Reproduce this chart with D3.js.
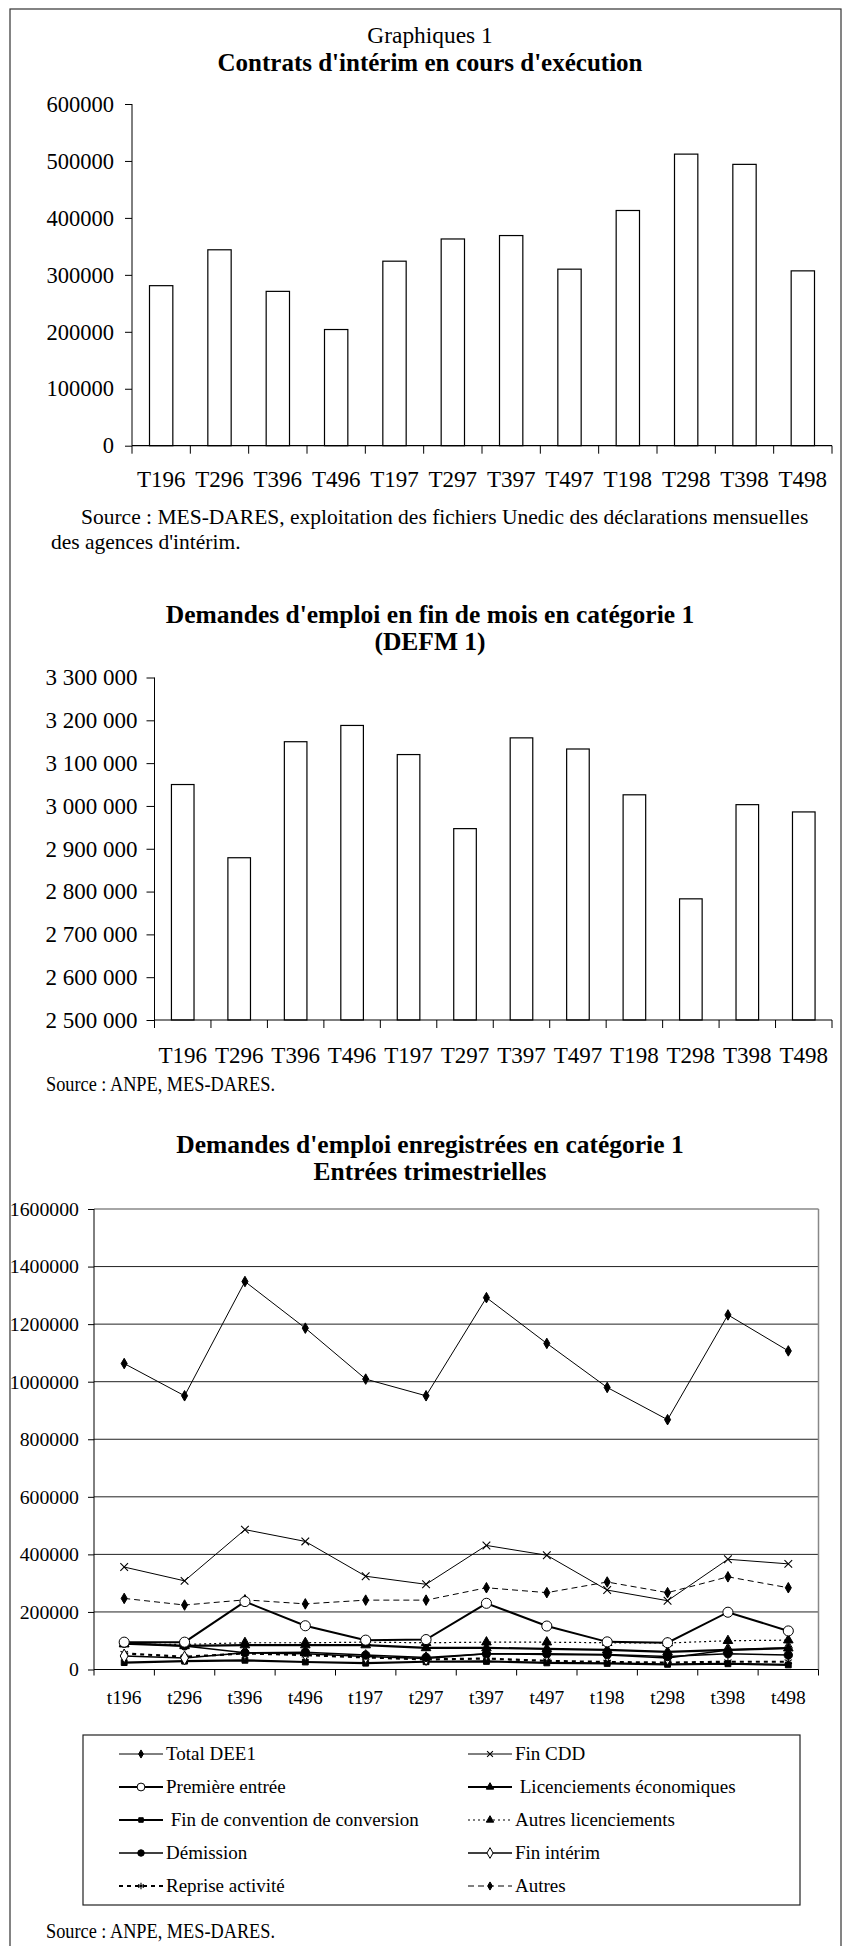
<!doctype html>
<meta charset="utf-8">
<script src="https://d3js.org/d3.v7.min.js"></script>
<style>
  body { margin: 0; background: #fff; }
  text { font-family: "Liberation Serif", "Times New Roman", serif; fill: #000; }
</style>
<body>
<svg width="844" height="1946"></svg>
<script>
  // ---- data ----
  var quarters = ["T196", "T296", "T396", "T496", "T197", "T297", "T397", "T497", "T198", "T298", "T398", "T498"];
  var quartersLow = ["t196", "t296", "t396", "t496", "t197", "t297", "t397", "t497", "t198", "t298", "t398", "t498"];

  var interim = [281000, 344000, 271000, 204000, 324000, 363000, 369000, 310000, 413000, 512000, 494000, 307000];
  var interimTicks = [0, 100000, 200000, 300000, 400000, 500000, 600000];

  var defm = [3050000, 2879000, 3150000, 3188000, 3120000, 2947000, 3159000, 3133000, 3026000, 2783000, 3003000, 2986000];
  var defmTicks = [2500000, 2600000, 2700000, 2800000, 2900000, 3000000, 3100000, 3200000, 3300000];

  var totalDEE1 = [1063000, 951000, 1348000, 1186000, 1009000, 951000, 1292000, 1133000, 980000, 868000, 1232000, 1107000];
  var finCDD = [356000, 308000, 486000, 445000, 324000, 296000, 431000, 397000, 276000, 239000, 383000, 367000];
  var premiereEntree = [95000, 95000, 236000, 152000, 102000, 104000, 230000, 151000, 96000, 93000, 199000, 134000];
  var licEco = [90000, 82000, 85000, 85000, 85000, 75000, 75000, 72000, 68000, 61000, 68000, 74000];
  var finConvention = [24000, 29000, 32000, 26000, 22000, 27000, 28000, 23000, 21000, 18000, 20000, 16000];
  var autresLic = [88000, 87000, 93000, 93000, 95000, 93000, 95000, 95000, 93000, 92000, 100000, 102000];
  var demission = [92000, 82000, 58000, 60000, 50000, 42000, 55000, 55000, 52000, 45000, 55000, 50000];
  var finInterim = [47000, 40000, 58000, 55000, 45000, 38000, 55000, 52000, 50000, 40000, 68000, 75000];
  var reprise = [56000, 44000, 56000, 50000, 42000, 35000, 38000, 30000, 26000, 24000, 27000, 27000];
  var autres = [247000, 224000, 242000, 228000, 241000, 241000, 284000, 267000, 304000, 267000, 322000, 284000];
  var entreesTicks = [0, 200000, 400000, 600000, 800000, 1000000, 1200000, 1400000, 1600000];

  var seriesNames = ["Total DEE1", "Fin CDD", "Première entrée", " Licenciements économiques",
    " Fin de convention de conversion", "Autres licenciements", "Démission", "Fin intérim",
    "Reprise activité", "Autres"];
  var seriesValues = [totalDEE1, finCDD, premiereEntree, licEco, finConvention, autresLic,
    demission, finInterim, reprise, autres];

  // styles (per series, same order)
  var seriesStyle = [
    { w: 1, dash: null, sym: d3.symbolDiamond, size: 32, fill: "#000" },
    { w: 1, dash: null, sym: d3.symbolX, size: 40, fill: "none" },
    { w: 2, dash: null, sym: d3.symbolCircle, size: 80, fill: "#fff" },
    { w: 2.2, dash: null, sym: d3.symbolTriangle, size: 40, fill: "#000" },
    { w: 2.2, dash: null, sym: d3.symbolSquare, size: 34, fill: "#000" },
    { w: 1.2, dash: "2,3", sym: d3.symbolTriangle, size: 40, fill: "#000" },
    { w: 1.5, dash: null, sym: d3.symbolCircle, size: 55, fill: "#000" },
    { w: 1.5, dash: null, sym: d3.symbolDiamond, size: 55, fill: "#fff" },
    { w: 2.2, dash: "4,4", sym: d3.symbolAsterisk, size: 50, fill: "none" },
    { w: 1, dash: "6,4", sym: d3.symbolDiamond, size: 32, fill: "#000" }
  ];

  var svg = d3.select("svg");

  // outer frame
  svg.append("rect")
    .attr("x", 10).attr("y", 9)
    .attr("width", 831).attr("height", 1960)
    .attr("fill", "none").attr("stroke", "#333").attr("stroke-width", 1.2);

  function spaced(v) { return d3.format(",")(v).replace(/,/g, " "); }

  // --------------------------------------------------------------- //
  // bar chart helper
  function barChart(cfg) {
    var x = d3.scaleBand().domain(cfg.cats).range([cfg.left, cfg.right]);
    var y = d3.scaleLinear().domain(cfg.domain).range([cfg.bottom, cfg.top]);

    // y axis
    var ya = svg.append("g")
      .attr("transform", "translate(" + cfg.left + ",0)")
      .call(d3.axisLeft(y).tickValues(cfg.ticks).tickSize(cfg.tick).tickPadding(cfg.pad)
        .tickFormat(cfg.format));
    ya.select(".domain").attr("d", "M0," + cfg.top + "V" + cfg.bottom).attr("stroke", "#000");
    ya.selectAll("text").attr("font-size", cfg.yfs);

    // bars
    svg.selectAll(null)
      .data(cfg.values)
      .enter().append("rect")
      .attr("x", function (d, i) { return x(cfg.cats[i]) + x.bandwidth() * 0.3; })
      .attr("y", function (d) { return y(d); })
      .attr("width", x.bandwidth() * 0.4)
      .attr("height", function (d) { return cfg.bottom - y(d); })
      .attr("fill", "#fff").attr("stroke", "#000").attr("stroke-width", 1.2);

    // x axis line + boundary ticks
    svg.append("line")
      .attr("x1", cfg.left).attr("x2", cfg.right)
      .attr("y1", cfg.bottom).attr("y2", cfg.bottom)
      .attr("stroke", "#000").attr("stroke-width", 1.2);
    var bounds = cfg.cats.map(function (c) { return x(c); }).concat([cfg.right]);
    svg.selectAll(null).data(bounds).enter().append("line")
      .attr("x1", function (d) { return d; }).attr("x2", function (d) { return d; })
      .attr("y1", cfg.bottom).attr("y2", cfg.bottom + 8)
      .attr("stroke", "#000");

    svg.selectAll(null).data(cfg.cats).enter().append("text")
      .attr("x", function (d) { return x(d) + x.bandwidth() / 2; })
      .attr("y", cfg.bottom + cfg.labelOff)
      .attr("text-anchor", "middle")
      .attr("font-size", cfg.xfs)
      .text(function (d) { return d; });
  }

  function title(lines, y0, gap, sizes, bolds) {
    lines.forEach(function (t, i) {
      svg.append("text")
        .attr("x", 430).attr("y", y0 + i * gap)
        .attr("text-anchor", "middle")
        .attr("font-size", sizes[i])
        .attr("font-weight", bolds[i] ? "bold" : "normal")
        .text(t);
    });
  }

  function anpeSource(yb) {
    svg.append("text").attr("x", 46).attr("y", yb).attr("font-size", 20)
      .attr("textLength", 229).attr("lengthAdjust", "spacingAndGlyphs")
      .text("Source : ANPE, MES-DARES.");
  }

  // ---- chart 1 ----
  title(["Graphiques 1", "Contrats d'intérim en cours d'exécution"], 42.5, 28, [23.4, 25], [false, true]);
  barChart({
    cats: quarters, values: interim, domain: [0, 600000], ticks: interimTicks,
    left: 132, right: 832, top: 104, bottom: 445.7, tick: 7, pad: 11, yfs: 22.5, xfs: 23,
    format: d3.format("d"), labelOff: 41
  });
  svg.append("text").attr("x", 81).attr("y", 524).attr("font-size", 21.5)
    .text("Source : MES-DARES, exploitation des fichiers Unedic des déclarations mensuelles");
  svg.append("text").attr("x", 51).attr("y", 549).attr("font-size", 21.5)
    .text("des agences d'intérim.");

  // ---- chart 2 ----
  title(["Demandes d'emploi en fin de mois en catégorie 1", "(DEFM 1)"], 623, 27, [25.5, 25.5], [true, true]);
  barChart({
    cats: quarters, values: defm, domain: [2500000, 3300000], ticks: defmTicks,
    left: 154.5, right: 832, top: 677.5, bottom: 1020, tick: 8, pad: 9, yfs: 23, xfs: 23,
    format: spaced, labelOff: 43
  });
  anpeSource(1091);

  // ---- chart 3 ----
  title(["Demandes d'emploi enregistrées en catégorie 1", "Entrées trimestrielles"], 1153, 27, [25.5, 25.5], [true, true]);

  var L3 = 94, R3 = 818.5, T3 = 1209, B3 = 1669.5;
  var x3 = d3.scaleBand().domain(quartersLow).range([L3, R3]);
  var y3 = d3.scaleLinear().domain([0, 1600000]).range([B3, T3]);

  // gridlines
  svg.selectAll(null).data(entreesTicks.slice(1)).enter().append("line")
    .attr("x1", L3).attr("x2", R3)
    .attr("y1", function (d) { return y3(d); }).attr("y2", function (d) { return y3(d); })
    .attr("stroke", function (d) { return d === 1600000 ? "#888" : "#222"; })
    .attr("stroke-width", function (d) { return d === 1600000 ? 1.5 : 1; });
  svg.append("line").attr("x1", R3).attr("x2", R3).attr("y1", T3).attr("y2", B3)
    .attr("stroke", "#888").attr("stroke-width", 1.5);

  var ya3 = svg.append("g")
    .attr("transform", "translate(" + L3 + ",0)")
    .call(d3.axisLeft(y3).tickValues(entreesTicks).tickSize(6).tickPadding(9).tickFormat(d3.format("d")));
  ya3.select(".domain").attr("d", "M0," + T3 + "V" + B3).attr("stroke", "#000");
  ya3.selectAll("text").attr("font-size", 19.8);

  svg.append("line").attr("x1", L3).attr("x2", R3).attr("y1", B3).attr("y2", B3)
    .attr("stroke", "#000").attr("stroke-width", 1.2);
  var bounds3 = quartersLow.map(function (c) { return x3(c); }).concat([R3]);
  svg.selectAll(null).data(bounds3).enter().append("line")
    .attr("x1", function (d) { return d; }).attr("x2", function (d) { return d; })
    .attr("y1", B3).attr("y2", B3 + 6).attr("stroke", "#000");
  svg.selectAll(null).data(quartersLow).enter().append("text")
    .attr("x", function (d) { return x3(d) + x3.bandwidth() / 2; })
    .attr("y", B3 + 34.5)
    .attr("text-anchor", "middle").attr("font-size", 19.5)
    .text(function (d) { return d; });

  var line3 = d3.line()
    .x(function (d, i) { return x3(quartersLow[i]) + x3.bandwidth() / 2; })
    .y(function (d) { return y3(d); });

  function drawMarker(g, st, cx, cy) {
    g.append("path")
      .attr("transform", "translate(" + cx + "," + cy + ")")
      .attr("d", d3.symbol().type(st.sym).size(st.size)())
      .attr("fill", st.fill)
      .attr("stroke", "#000")
      .attr("stroke-width", st.fill === "none" ? 1.1 : 1);
  }

  // draw from back to front
  var order = [9, 1, 0, 8, 4, 7, 6, 3, 5, 2];
  order.forEach(function (k) {
    var st = seriesStyle[k];
    var g = svg.append("g");
    g.append("path")
      .datum(seriesValues[k])
      .attr("d", line3)
      .attr("fill", "none")
      .attr("stroke", "#000")
      .attr("stroke-width", st.w)
      .attr("stroke-dasharray", st.dash);
    seriesValues[k].forEach(function (v, i) {
      drawMarker(g, st, x3(quartersLow[i]) + x3.bandwidth() / 2, y3(v));
    });
  });

  // legend
  svg.append("rect")
    .attr("x", 83).attr("y", 1735).attr("width", 717).attr("height", 170)
    .attr("fill", "#fff").attr("stroke", "#222").attr("stroke-width", 1.2);
  seriesNames.forEach(function (name, k) {
    var col = k % 2, row = Math.floor(k / 2);
    var lx = col === 0 ? 119 : 468;
    var cy = 1754 + row * 33;
    var st = seriesStyle[k];
    var g = svg.append("g");
    g.append("line")
      .attr("x1", lx).attr("x2", lx + 44).attr("y1", cy).attr("y2", cy)
      .attr("stroke", "#000").attr("stroke-width", st.w)
      .attr("stroke-dasharray", st.dash);
    drawMarker(g, { sym: st.sym, size: st.size * 0.6, fill: st.fill }, lx + 22, cy);
    g.append("text")
      .attr("x", lx + 47).attr("y", cy + 6)
      .attr("font-size", 19)
      .style("white-space", "pre")
      .text(name);
  });

  anpeSource(1938);
</script>
</body>
